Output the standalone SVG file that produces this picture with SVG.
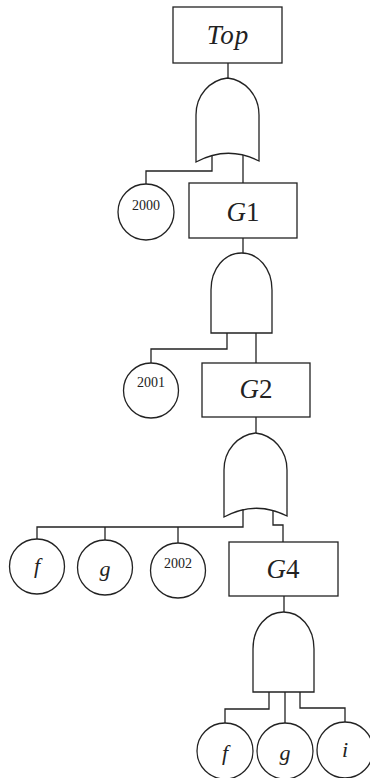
<svg xmlns="http://www.w3.org/2000/svg" width="370" height="778" viewBox="0 0 370 778">
<style>
.s{fill:#fff;stroke:#222;stroke-width:1.3}
.c{fill:none;stroke:#222;stroke-width:1.3}
.t{font-family:"Liberation Serif","Times New Roman",serif;fill:#222;text-anchor:middle}
.i{font-style:italic}
</style>
<rect width="370" height="778" fill="#fff"/>
<g id="connectors">
<path class="c" d="M228,63 V78"/>
<path class="c" d="M212,155 V171 H146 V184"/>
<path class="c" d="M243,155 V183"/>
<path class="c" d="M243,238 V253"/>
<path class="c" d="M227,333 V349 H151 V363"/>
<path class="c" d="M256,333 V363"/>
<path class="c" d="M256,417 V433"/>
<path class="c" d="M243,509 V527 H37 V539"/>
<path class="c" d="M105,527 V540"/>
<path class="c" d="M178,527 V543"/>
<path class="c" d="M273,509 V525 H283 V542"/>
<path class="c" d="M284,596 V612"/>
<path class="c" d="M269,692 V709 H225 V723"/>
<path class="c" d="M285,692 V723"/>
<path class="c" d="M300,692 V708 H345 V722"/>
</g>
<g id="top"><rect class="s" x="173" y="7" width="109" height="56"/><text class="t i" x="228" y="44" font-size="27" letter-spacing="1">Top</text></g>
<g id="or1"><path class="s" d="M196,162 V115 C196,95 210,80 227.5,78 C245,80 259,95 259,115 V161 Q227.5,145 196,162 Z"/></g>
<g id="e2000"><circle class="s" cx="146" cy="212" r="28"/><text class="t" x="146" y="210" font-size="14">2000</text></g>
<g id="G1"><rect class="s" x="189" y="183" width="108" height="55"/><text class="t" x="243" y="221" font-size="27"><tspan class="i">G</tspan>1</text></g>
<g id="and1"><path class="s" d="M211,333 V290 C211,268 225,253 241.5,253 C258,253 272,268 272,290 V333 Z"/></g>
<g id="e2001"><circle class="s" cx="151" cy="390.5" r="27.5"/><text class="t" x="151" y="387" font-size="14">2001</text></g>
<g id="G2"><rect class="s" x="202" y="363" width="108" height="54"/><text class="t" x="256" y="398" font-size="27"><tspan class="i">G</tspan>2</text></g>
<g id="or2"><path class="s" d="M224,517 V470 C224,450 238,435 255.5,433 C273,435 287,450 287,470 V516 Q255.5,500 224,517 Z"/></g>
<g id="f1"><circle class="s" cx="37" cy="566.5" r="27.5"/><text class="t i" x="37" y="573" font-size="22">f</text></g>
<g id="g1"><circle class="s" cx="105" cy="567.5" r="27.5"/><text class="t i" x="105" y="576" font-size="22">g</text></g>
<g id="e2002"><circle class="s" cx="178" cy="570.5" r="27.5"/><text class="t" x="178" y="568" font-size="14">2002</text></g>
<g id="G4"><rect class="s" x="229" y="542" width="109" height="54"/><text class="t" x="283" y="578" font-size="27"><tspan class="i">G</tspan>4</text></g>
<g id="and2"><path class="s" d="M253,692 V649 C253,627 267,612 283.5,612 C300,612 314,627 314,649 V692 Z"/></g>
<g id="f2"><circle class="s" cx="225" cy="751" r="28"/><text class="t i" x="225" y="760" font-size="22">f</text></g>
<g id="g2"><circle class="s" cx="285" cy="751" r="28"/><text class="t i" x="285" y="760" font-size="22">g</text></g>
<g id="i2"><circle class="s" cx="345" cy="750" r="28"/><text class="t i" x="345" y="757" font-size="22">i</text></g>
</svg>
